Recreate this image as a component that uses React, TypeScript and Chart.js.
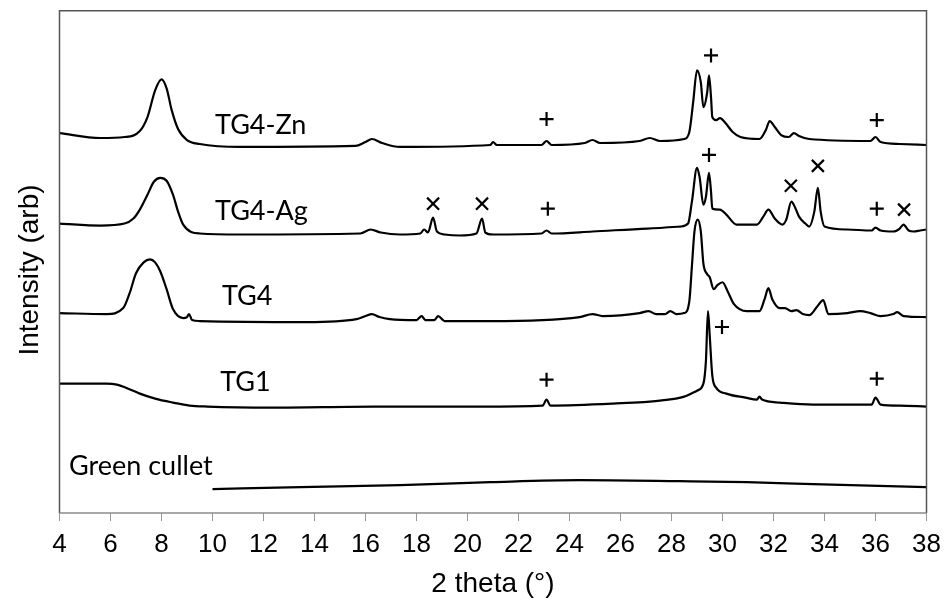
import React, { useEffect, useRef } from "react";
import { Chart, registerables } from "chart.js";

Chart.register(...registerables);

// 2 theta (deg) and intensity (arb, offset stacked) for each pattern
const znX = [4.0, 5.6, 6.55, 7.15, 7.45, 7.75, 8.0, 8.2, 8.4, 8.65, 9.0, 9.5, 11.1, 15.6, 16.0, 16.25, 16.65, 17.35, 20.9, 21.0, 21.15, 22.9, 23.1, 23.3, 24.6, 24.9, 25.2, 26.75, 27.15, 27.55, 28.5, 28.7, 28.85, 29.0, 29.15, 29.25, 29.4, 29.47, 29.55, 29.6, 29.75, 29.9, 30.15, 30.4, 30.7, 31.45, 31.7, 31.85, 32.05, 32.3, 32.6, 32.8, 33.0, 33.4, 35.8, 36.0, 36.2, 36.95, 38.0];
const znY = [382, 377, 378, 384, 398, 425, 436, 427, 405, 386, 375, 371, 368, 369, 373, 376, 372, 368, 370, 373, 370, 370, 374, 370, 372, 375, 372, 374, 377, 374, 376, 383, 413, 445, 433, 408, 423, 440, 418, 398, 395, 397, 391, 383, 378, 376, 385, 394, 388, 380, 378, 382, 379, 376, 374, 378, 373, 371, 370];

const agX = [4.0, 5.6, 6.55, 6.9, 7.15, 7.45, 7.7, 7.95, 8.2, 8.45, 8.65, 8.85, 9.5, 11.1, 15.8, 16.2, 16.6, 17.35, 18.15, 18.3, 18.45, 18.65, 18.8, 19.1, 19.7, 20.35, 20.57, 20.7, 21.0, 22.9, 23.1, 23.3, 24.9, 27.05, 28.35, 28.65, 28.8, 29.0, 29.1, 29.25, 29.35, 29.47, 29.55, 29.6, 29.9, 30.15, 30.55, 31.35, 31.6, 31.8, 32.05, 32.35, 32.5, 32.7, 32.85, 33.0, 33.25, 33.4, 33.6, 33.74, 33.85, 34.0, 34.9, 35.85, 36.0, 36.2, 36.7, 36.95, 37.1, 37.3, 37.5, 37.75, 38.0];
const agY = [291, 289, 291, 296, 305, 320, 333, 337, 334, 320, 303, 290, 281, 280, 281, 285, 282, 280, 281, 285, 282, 297, 283, 280, 279, 281, 296, 282, 280, 281, 284, 281, 283, 286, 288, 291, 313, 347, 338, 310, 318, 342, 323, 306, 305, 300, 290, 290, 298, 305, 296, 290, 295, 313, 307, 298, 291, 288, 303, 327, 303, 288, 285, 284, 287, 284, 283, 286, 290, 284, 283, 284, 285];

const tg4X = [4.0, 5.85, 6.5, 6.75, 7.0, 7.3, 7.55, 7.75, 7.95, 8.2, 8.45, 8.85, 9.0, 9.08, 9.2, 9.5, 13.7, 15.65, 16.0, 16.25, 16.55, 16.95, 18.0, 18.2, 18.35, 18.7, 18.85, 19.1, 20.9, 24.4, 24.9, 25.3, 26.75, 27.1, 27.4, 27.75, 27.95, 28.2, 28.5, 28.7, 28.8, 28.9, 29.03, 29.15, 29.25, 29.4, 29.5, 29.65, 29.8, 30.0, 30.2, 30.45, 30.95, 31.45, 31.65, 31.8, 31.95, 32.25, 32.45, 32.7, 32.9, 33.15, 33.4, 33.7, 33.95, 34.15, 34.9, 35.4, 35.8, 36.2, 36.7, 36.85, 37.1, 38.0];
const tg4Y = [201, 200, 206, 221, 241, 252, 255, 252, 243, 225, 205, 196, 197, 200, 194, 193, 192, 195, 198, 200, 197, 195, 194, 198, 194, 194, 198, 193, 193, 197, 200, 198, 201, 203, 200, 200, 203, 200, 201, 213, 248, 283, 295, 283, 251, 240, 237, 225, 229, 232, 223, 210, 203, 203, 215, 226, 215, 206, 206, 203, 204, 200, 199, 207, 214, 200, 201, 203, 201, 198, 200, 202, 198, 197];

const tg1X = [4.0, 5.85, 6.25, 6.7, 7.15, 7.75, 8.45, 9.1, 9.8, 12.35, 16.3, 20.5, 22.95, 23.1, 23.25, 25.7, 27.55, 28.5, 29.0, 29.25, 29.35, 29.43, 29.5, 29.6, 29.75, 30.15, 30.9, 31.35, 31.45, 31.55, 32.25, 33.55, 35.85, 36.0, 36.2, 36.95, 38.0];
const tg1Y = [130, 130, 129, 125, 120, 115, 111, 108, 107, 106, 107, 107, 108, 114, 108, 110, 113, 117, 123, 130, 153, 203, 178, 138, 126, 120, 116, 114, 117, 114, 111, 109, 109, 116, 109, 108, 107];

const gcX = [10.0, 13.45, 17.35, 20.9, 24.4, 28.3, 30.95, 33.55, 38.0];
const gcY = [24, 26, 28, 31, 33, 32, 31, 29, 26];

// reflection markers: "+" and "×"
const plusX = [23.1, 29.55, 36.05, 23.15, 29.47, 36.05, 23.1, 29.98, 36.05];
const plusY = [396, 460, 395, 306, 360, 306, 134, 187, 135];
const crossX = [18.65, 20.57, 32.68, 33.74, 37.12];
const crossY = [311, 311, 329, 349, 305];

// sample labels (left x, baseline y)
const labelText = ["TG4-Zn", "TG4-Ag", "TG4", "TG1", "Green cullet"];
const labelX = [10.1, 10.1, 10.37, 10.3, 4.37];
const labelY = [381, 295, 209, 123, 38];

const xTicks = { min: 4, max: 38, step: 2 };
const xTitle = "2 theta (°)";
const yTitle = "Intensity (arb)";

const zip = (xs: number[], ys: number[]) => xs.map((x, i) => ({ x, y: ys[i] }));

const overlayPlugin = {
  id: "overlay",
  afterDatasetsDraw(chart: any) {
    const { ctx, chartArea, scales } = chart;
    const xs = scales.x;
    const ys = scales.y;
    ctx.save();
    // frame
    ctx.lineWidth = 1.5;
    ctx.strokeStyle = "#555";
    ctx.beginPath();
    ctx.moveTo(chartArea.left, chartArea.bottom);
    ctx.lineTo(chartArea.left, chartArea.top);
    ctx.lineTo(chartArea.right, chartArea.top);
    ctx.lineTo(chartArea.right, chartArea.bottom);
    ctx.stroke();
    ctx.strokeStyle = "#8a8a8a";
    ctx.beginPath();
    ctx.moveTo(chartArea.left, chartArea.bottom);
    ctx.lineTo(chartArea.right, chartArea.bottom);
    ctx.stroke();
    // labels
    ctx.fillStyle = "#000";
    ctx.font = "27px Lato";
    ctx.textAlign = "left";
    ctx.textBaseline = "alphabetic";
    labelText.forEach((t, i) => {
      ctx.fillText(t, xs.getPixelForValue(labelX[i]), ys.getPixelForValue(labelY[i]));
    });
    // y title
    ctx.font = "28px 'Liberation Sans', Arial";
    ctx.translate(30, 270);
    ctx.rotate(-Math.PI / 2);
    ctx.textAlign = "center";
    ctx.textBaseline = "middle";
    ctx.fillText(yTitle, 0, 0);
    ctx.restore();
  },
};

export default function App() {
  const ref = useRef<HTMLCanvasElement | null>(null);
  useEffect(() => {
    document.body.style.margin = "0";
    if (!ref.current) return;
    const line = (xs: number[], ys: number[]) => ({
      data: zip(xs, ys),
      borderColor: "#000",
      borderWidth: 2.2,
      pointRadius: 0,
      fill: false,
      cubicInterpolationMode: "monotone" as const,
    });
    const chart = new Chart(ref.current, {
      type: "line",
      data: {
        datasets: [
          line(znX, znY),
          line(agX, agY),
          line(tg4X, tg4Y),
          line(tg1X, tg1Y),
          line(gcX, gcY),
          {
            data: zip(plusX, plusY),
            showLine: false,
            pointStyle: "cross",
            pointRadius: 7,
            pointBorderWidth: 2.2,
            pointBorderColor: "#000",
            borderColor: "#000",
          } as any,
          {
            data: zip(crossX, crossY),
            showLine: false,
            pointStyle: "crossRot",
            pointRadius: 8.5,
            pointBorderWidth: 2.2,
            pointBorderColor: "#000",
            borderColor: "#000",
          } as any,
        ],
      },
      options: {
        animation: false,
        responsive: true,
        maintainAspectRatio: false,
        layout: { padding: { top: 8, right: 23.5, left: 0, bottom: 0 } },
        plugins: { legend: { display: false }, tooltip: { enabled: false } },
        scales: {
          x: {
            type: "linear",
            min: xTicks.min,
            max: xTicks.max,
            afterFit: (s: any) => {
              s.height = 90;
            },
            ticks: {
              stepSize: xTicks.step,
              color: "#000",
              font: { family: "'Liberation Sans', Arial", size: 26 },
              padding: 8,
              maxRotation: 0,
              autoSkip: false,
            },
            grid: { display: true, drawOnChartArea: false, drawTicks: true, tickLength: 8, color: "#999" },
            border: { display: false },
            title: {
              display: true,
              text: xTitle,
              color: "#000",
              font: { family: "'Liberation Sans', Arial", size: 28 },
              padding: { top: 0, bottom: 2 },
            },
          },
          y: {
            type: "linear",
            min: 0,
            max: 505,
            afterFit: (s: any) => {
              s.width = 59.5;
            },
            ticks: { display: false },
            grid: { display: false },
            border: { display: false },
          },
        },
      },
      plugins: [overlayPlugin],
    });
    return () => chart.destroy();
  }, []);
  return (
    <div style={{ width: 950, height: 603, position: "relative" }}>
      <canvas ref={ref} />
    </div>
  );
}
